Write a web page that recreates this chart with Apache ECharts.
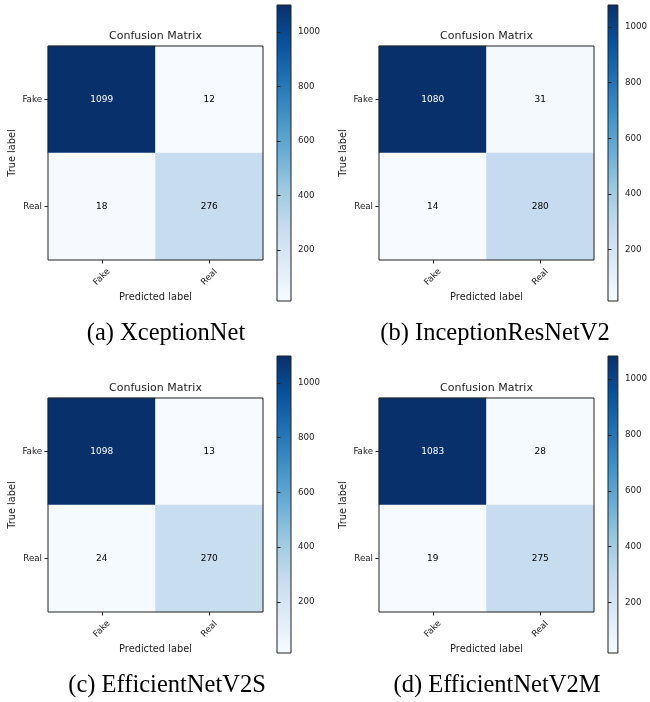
<!DOCTYPE html>
<html>
<head>
<meta charset="utf-8">
<script src="https://cdn.jsdelivr.net/npm/echarts@6/dist/echarts.min.js"></script>
<style>html,body{margin:0;padding:0;background:#fff}#c{width:650px;height:702px}</style>
</head>
<body>
<div id="c"></div>
<script>
// ---- data ----
const categories = ['Fake', 'Real'];
const cmXception = [[1099, 12], [18, 276]];
const cmInception = [[1080, 31], [14, 280]];
const cmEffV2S = [[1098, 13], [24, 270]];
const cmEffV2M = [[1083, 28], [19, 275]];
const captions = ['(a) XceptionNet', '(b) InceptionResNetV2', '(c) EfficientNetV2S', '(d) EfficientNetV2M'];
const colorbarTicks = [200, 400, 600, 800, 1000];
const plotTitle = 'Confusion Matrix';
const xName = 'Predicted label';
const yName = 'True label';

// ---- layout / style ----
const matrices = [cmXception, cmInception, cmEffV2S, cmEffV2M];
const blues = ['#f7fbff', '#deebf7', '#c6dbef', '#9ecae1', '#6baed6', '#4292c6', '#2171b5', '#08519c', '#08306b'];
const panels = [
  { left: 48, top: 46, cbLeft: 277, cbTop: 5, cbH: 296, capX: 166, capY: 334 },
  { left: 379, top: 46, cbLeft: 608, cbTop: 5, cbH: 296, capX: 495, capY: 334 },
  { left: 48, top: 398, cbLeft: 277, cbTop: 356, cbH: 297, capX: 167, capY: 686 },
  { left: 379, top: 398, cbLeft: 608, cbTop: 356, cbH: 297, capX: 497, capY: 686 }
];
const PW = 215, PH = 214;
const FONT = 'DejaVu Sans';
const TXT = '#222';

const grid = [], xAxis = [], yAxis = [], series = [], visualMap = [], graphic = [];
panels.forEach((p, k) => {
  const m = matrices[k];
  const flat = m.flat();
  const vmin = Math.min(...flat), vmax = Math.max(...flat);
  const data = [];
  m.forEach((row, i) => row.forEach((v, j) => {
    data.push({ value: [j, i, v], label: { color: v > vmax / 2 ? '#fff' : '#000' } });
  }));
  // matrix grid
  grid.push({ left: p.left, top: p.top, width: PW, height: PH, show: true, borderColor: '#222', borderWidth: 1, backgroundColor: 'transparent', z: 5 });
  xAxis.push({
    type: 'category', gridIndex: 2 * k, data: categories, position: 'bottom',
    name: xName, nameLocation: 'middle', nameGap: 32,
    nameTextStyle: { fontFamily: FONT, fontSize: 9.8, color: TXT },
    axisLine: { show: false },
    axisTick: { show: true, alignWithLabel: true, length: 3.5, lineStyle: { color: '#222' } },
    axisLabel: { rotate: 45, align: 'center', verticalAlign: 'middle', margin: 17, fontFamily: FONT, fontSize: 8.7, color: TXT },
    splitLine: { show: false }
  });
  yAxis.push({
    type: 'category', gridIndex: 2 * k, data: categories, inverse: true,
    name: yName, nameLocation: 'middle', nameGap: 31, nameRotate: 90,
    nameTextStyle: { fontFamily: FONT, fontSize: 9.8, color: TXT },
    axisLine: { show: false },
    axisTick: { show: true, alignWithLabel: true, length: 3.5, lineStyle: { color: '#222' } },
    axisLabel: { margin: 6, fontFamily: FONT, fontSize: 8.7, color: TXT },
    splitLine: { show: false }
  });
  series.push({
    type: 'heatmap', xAxisIndex: 2 * k, yAxisIndex: 2 * k, data: data,
    label: { show: true, fontFamily: FONT, fontSize: 9, formatter: (q) => q.value[2] },
    itemStyle: { borderWidth: 0 },
    emphasis: { disabled: true }
  });
  visualMap.push({ type: 'continuous', show: false, min: vmin, max: vmax, seriesIndex: k, inRange: { color: blues } });
  // colorbar grid
  grid.push({
    left: p.cbLeft, top: p.cbTop, width: 14, height: p.cbH, show: true, borderColor: '#222', borderWidth: 1,
    backgroundColor: { type: 'linear', x: 0, y: 0, x2: 0, y2: 1, colorStops: blues.slice().reverse().map((c, i) => ({ offset: i / (blues.length - 1), color: c })) }
  });
  xAxis.push({ type: 'value', gridIndex: 2 * k + 1, show: false, min: 0, max: 1 });
  yAxis.push({
    type: 'value', gridIndex: 2 * k + 1, position: 'right', min: vmin, max: vmax,
    axisLine: { show: false },
    axisTick: { show: true, length: 3.5, customValues: colorbarTicks, lineStyle: { color: '#222' } },
    axisLabel: { show: true, margin: 7, customValues: colorbarTicks, formatter: (v) => String(v), fontFamily: FONT, fontSize: 8.7, color: TXT },
    splitLine: { show: false }
  });
  graphic.push({ type: 'text', x: p.left + PW / 2, y: p.top - 10, style: { text: plotTitle, fontFamily: FONT, fontSize: 11, fill: TXT, textAlign: 'center', textVerticalAlign: 'middle' } });
  graphic.push({ type: 'text', x: p.capX, y: p.capY, style: { text: captions[k], fontFamily: 'Liberation Serif', fontSize: 24.5, fill: '#000', textAlign: 'center', textVerticalAlign: 'middle' } });
});

const chart = echarts.init(document.getElementById('c'));
chart.setOption({ animation: false, grid, xAxis, yAxis, series, visualMap, graphic });
</script>
</body>
</html>
